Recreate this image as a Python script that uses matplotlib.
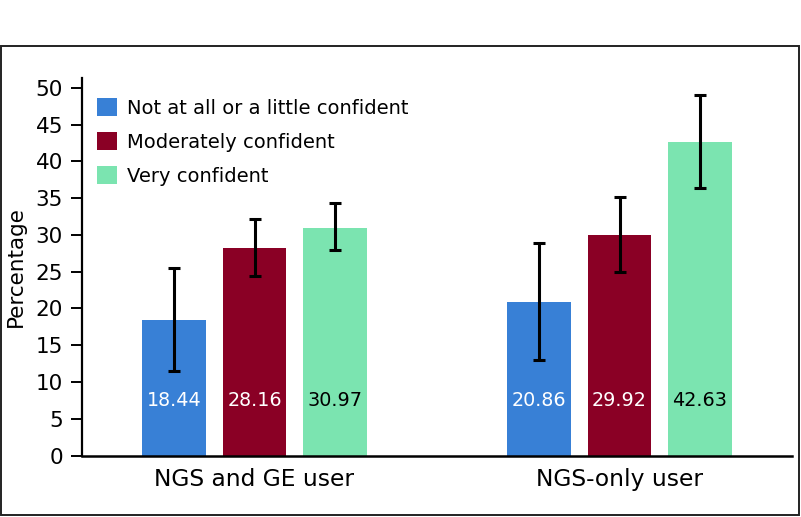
import numpy as np
import matplotlib
matplotlib.use("Agg")
import matplotlib.pyplot as plt
from matplotlib.patches import Rectangle

plt.rcParams['font.family'] = ['DejaVu Sans']

groups = ["NGS and GE user", "NGS-only user"]
series = ["Not at all or a little confident", "Moderately confident", "Very confident"]
colors = ["#3880d6", "#8a0025", "#7be4b0"]
textColors = ["white", "white", "black"]

values = [
	[18.44, 20.86],
	[28.16, 29.92],
	[30.97, 42.63],
]
ciLow = [
	[11.5, 13.0],
	[24.4, 24.9],
	[27.9, 36.4],
]
ciHigh = [
	[25.5, 28.9],
	[32.1, 35.1],
	[34.3, 49.0],
]


def main():
	fig = plt.figure(figsize=(8.01, 5.17), dpi=100)
	ax = fig.add_axes([0.1024, 0.1186, 0.8864, 0.7311])

	# outer frame around the whole chart
	fig.patches.append(Rectangle((1 / 801, 2 / 517), 798 / 801, 469 / 517,
		transform=fig.transFigure, fill=False, edgecolor="#222222", linewidth=1.4))

	x = np.arange(len(groups))
	width = 0.175
	step = 0.2205

	for i in range(len(series)):
		pos = x + (i - 1) * step
		vals = np.array(values[i])
		lo = vals - np.array(ciLow[i])
		hi = np.array(ciHigh[i]) - vals
		ax.bar(pos, vals, width, color=colors[i], label=series[i], zorder=2)
		ax.errorbar(pos, vals, yerr=[lo, hi], fmt='none', ecolor='black',
			elinewidth=2.2, capsize=4, capthick=2.2, zorder=3)
		for p, v in zip(pos, vals):
			ax.text(p, 7.5, "%.2f" % v, ha='center', va='center',
				color=textColors[i], fontsize=13.8, zorder=4)

	ax.set_xlim(-0.4726, 1.4726)
	ax.set_ylim(0, 51.36)
	ax.set_yticks(np.arange(0, 51, 5))
	ax.set_xticks(x)
	ax.set_xticklabels(groups, fontsize=16.8)
	ax.tick_params(axis='x', length=0, pad=9)
	ax.tick_params(axis='y', labelsize=15.5, length=7.7, width=1.4, pad=6, direction='out')

	for s in ['top', 'right']:
		ax.spines[s].set_visible(False)
	ax.spines['left'].set_linewidth(1.6)
	ax.spines['bottom'].set_linewidth(1.8)

	ax.set_ylabel("Percentage", fontsize=15.5)
	ax.yaxis.set_label_coords(-0.079, 0.5)

	ax.legend(loc='upper left', bbox_to_anchor=(0.004, 0.976), frameon=False,
		fontsize=14, handlelength=1.03, handleheight=1.03, handletextpad=0.55,
		labelspacing=0.74, borderaxespad=0.2)

	fig.savefig("out.png", dpi=100)


if __name__ == "__main__":
	main()
